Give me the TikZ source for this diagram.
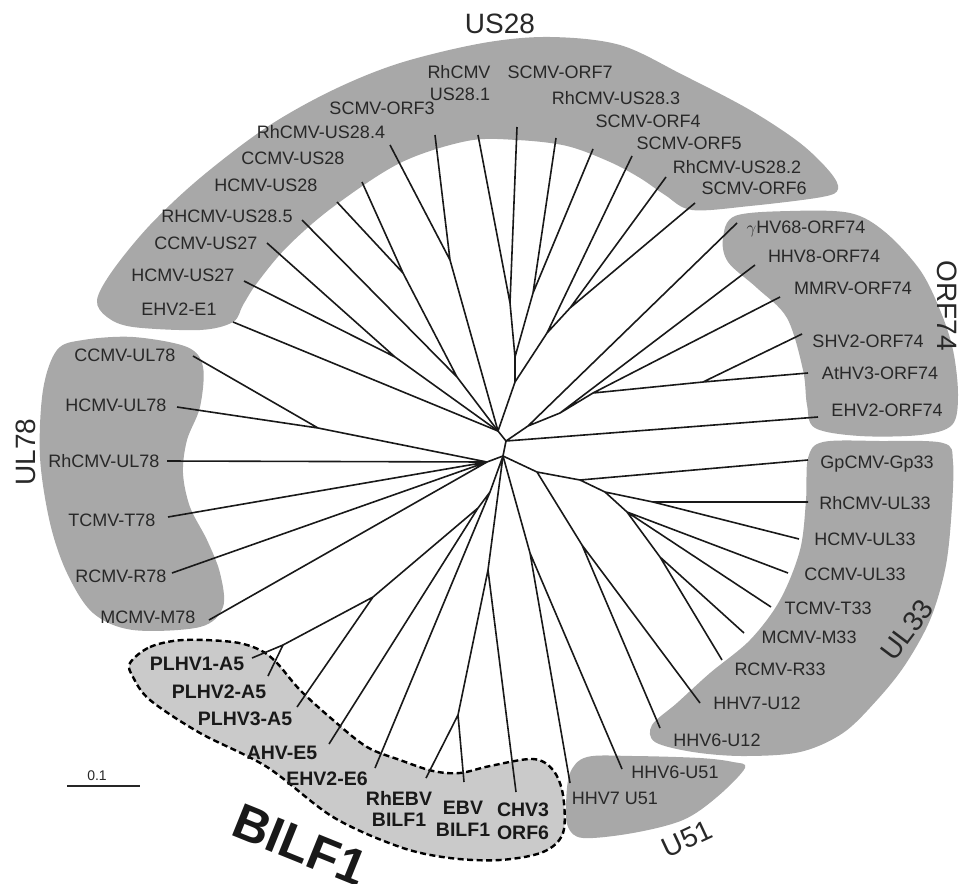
\documentclass[tikz,border=0pt]{standalone}
\usepackage{fontspec}
\setmainfont{Liberation Sans}
\definecolor{bandgray}{RGB}{168,168,168}
\definecolor{bilfgray}{RGB}{202,202,202}
\definecolor{inkc}{RGB}{40,40,40}
\begin{document}
\begin{tikzpicture}[x=1pt,y=-1pt,
  br/.style={line width=1.6pt, draw=black!90},
  lbl/.style={font=\fontsize{18}{20}\selectfont, text=inkc, inner sep=0pt, text height=13pt, text depth=0pt},
  blbl/.style={font=\fontsize{19.5}{21}\selectfont\bfseries, text=black!90, inner sep=0pt, text height=14pt, text depth=0pt},
  grp/.style={font=\fontsize{28}{30}\selectfont, text=inkc, inner sep=0pt},
  band/.style={fill=bandgray},
]
\useasboundingbox (0,0) rectangle (973,883);

% ---------- shaded groups ----------
\fill[band] plot[smooth cycle, tension=0.55] coordinates {(97,300) (113,270) (150,225) (200,178) (267,127) (333,90) (400,63) (483,43) (550,37) (620,45) (683,75) (750,110) (800,143) (830,172) (838,189) (822,197) (750,206) (692,210) (665,195) (640,178) (610,162) (567,146) (517,140) (467,141) (400,163) (333,207) (287,247) (257,283) (243,305) (233,322) (200,330) (133,327) (107,317)};
\fill[band] plot[smooth cycle, tension=0.55] coordinates {(723,238) (735,216) (790,211) (850,213) (885,232) (920,270) (940,310) (953,350) (958,395) (952,425) (920,435) (860,436) (815,428) (807,405) (803,370) (787,318) (757,288) (728,262)};
\fill[band] plot[smooth cycle, tension=0.55] coordinates {(808,458) (823,442) (880,441) (943,443) (953,462) (951,520) (945,570) (930,620) (905,665) (877,700) (843,733) (800,752) (743,756) (693,752) (655,742) (652,725) (677,703) (710,673) (750,640) (780,600) (800,550) (806,500)};
\fill[band] plot[smooth cycle, tension=0.55] coordinates {(570,773) (587,757) (633,756) (700,758) (733,762) (745,768) (717,797) (683,820) (633,833) (583,838) (568,827) (566,805)};
\fill[band] plot[smooth cycle, tension=0.55] coordinates {(57,350) (83,340) (133,337) (187,347) (203,367) (200,407) (187,440) (183,473) (190,507) (207,540) (220,573) (223,607) (200,627) (133,630) (93,613) (67,573) (50,523) (40,457) (43,390)};
\draw[fill=bilfgray, line width=2.4pt, dash pattern=on 6pt off 3.5pt] plot[smooth cycle, tension=0.55] coordinates {(130,663) (150,647) (183,640) (233,642) (260,650) (277,663) (300,690) (333,720) (367,747) (400,760) (433,771) (460,773) (490,766) (533,759) (553,770) (563,795) (563,833) (543,852) (500,860) (450,858) (400,847) (333,817) (267,767) (200,733) (150,700) (133,677)};

% ---------- internal nodes ----------
\coordinate (A) at (498,431);
\coordinate (B) at (506,441);
\coordinate (C) at (503,456);
\coordinate (n27) at (395,357);
\coordinate (n28) at (403,273);
\coordinate (L3) at (457,377);
\coordinate (L1) at (450,260);
\coordinate (T5) at (510,303);
\coordinate (T3) at (533,293);
\coordinate (T4) at (515,357);
\coordinate (T1) at (570,308);
\coordinate (T2) at (547,333);
\coordinate (T6) at (515,382);
\coordinate (SA) at (703,382);
\coordinate (O4) at (593,393);
\coordinate (O3) at (560,413);
\coordinate (O1) at (528,426);
\coordinate (Q0) at (537,472);
\coordinate (Q1) at (580,480);
\coordinate (Q2) at (605,492);
\coordinate (RH) at (653,502);
\coordinate (Q3) at (627,512);
\coordinate (MR) at (660,557);
\coordinate (H12) at (582,545);
\coordinate (U5) at (530,553);
\coordinate (PL12) at (283,645);
\coordinate (PL123) at (373,597);
\coordinate (B2) at (478,508);
\coordinate (B1) at (490,492);
\coordinate (E) at (458,715);
\coordinate (EC) at (488,570);
\coordinate (U1) at (318,428);
\coordinate (C1) at (487,462);

% ---------- leaf ends ----------
\coordinate (e1) at (233,322);
\coordinate (hus27) at (244,281);
\coordinate (cus27) at (267,243);
\coordinate (rus285) at (302,220);
\coordinate (hus28) at (337,202);
\coordinate (cus28) at (362,182);
\coordinate (rus284) at (390,145);
\coordinate (orf3) at (435,135);
\coordinate (rus281) at (478,135);
\coordinate (orf7) at (517,127);
\coordinate (rus283) at (556,138);
\coordinate (orf4) at (593,149);
\coordinate (orf5) at (632,156);
\coordinate (rus282) at (666,177);
\coordinate (orf6) at (695,203);
\coordinate (g68) at (737,223);
\coordinate (hhv8) at (755,265);
\coordinate (mmrv) at (780,297);
\coordinate (shv2) at (802,334);
\coordinate (athv3) at (808,373);
\coordinate (ehv2o) at (818,417);
\coordinate (gp33) at (808,460);
\coordinate (rul33) at (808,502);
\coordinate (hul33) at (799,539);
\coordinate (cul33) at (788,573);
\coordinate (t33) at (771,607);
\coordinate (m33) at (744,633);
\coordinate (r33) at (722,660);
\coordinate (h7u12) at (700,703);
\coordinate (h6u12) at (660,728);
\coordinate (h6u51) at (622,769);
\coordinate (h7u51) at (570,783);
\coordinate (chv3) at (516,792);
\coordinate (ebv) at (464,782);
\coordinate (rhebv) at (426,778);
\coordinate (ehv2e6) at (375,768);
\coordinate (ahv) at (329,744);
\coordinate (plhv3) at (297,707);
\coordinate (plhv2) at (268,676);
\coordinate (plhv1) at (252,658);
\coordinate (cul78) at (193,356);
\coordinate (hul78) at (177,407);
\coordinate (rul78) at (167,461);
\coordinate (t78) at (168,517);
\coordinate (r78) at (172,573);
\coordinate (m78) at (209,620);

% ---------- branches ----------
\draw[br] (A)--(B) (B)--(C);
\draw[br] (A)--(e1);
\draw[br] (A)--(n27) (n27)--(hus27) (n27)--(cus27);
\draw[br] (A)--(L3) (L3)--(rus285) (L3)--(n28) (n28)--(hus28) (n28)--(cus28);
\draw[br] (A)--(L1) (L1)--(rus284) (L1)--(orf3);
\draw[br] (A)--(T6) (T6)--(T4) (T4)--(T5) (T5)--(rus281) (T5)--(orf7)
  (T4)--(T3) (T3)--(rus283) (T3)--(orf4)
  (T6)--(T2) (T2)--(orf5) (T2)--(T1) (T1)--(rus282) (T1)--(orf6);
\draw[br] (B)--(ehv2o) (B)--(O1) (O1)--(g68) (O1)--(O3) (O3)--(hhv8) (O3)--(O4)
  (O4)--(mmrv) (O4)--(SA) (SA)--(shv2) (SA)--(athv3);
\draw[br] (C)--(Q0) (Q0)--(Q1) (Q1)--(gp33) (Q1)--(Q2) (Q2)--(RH) (RH)--(rul33) (RH)--(hul33)
  (Q2)--(Q3) (Q3)--(cul33) (Q3)--(t33) (Q3)--(MR) (MR)--(m33) (MR)--(r33)
  (Q0)--(H12) (H12)--(h7u12) (H12)--(h6u12);
\draw[br] (C)--(U5) (U5)--(h6u51) (U5)--(h7u51);
\draw[br] (C)--(B1) (B1)--(ehv2e6) (B1)--(B2) (B2)--(ahv) (B2)--(PL123) (PL123)--(plhv3)
  (PL123)--(PL12) (PL12)--(plhv1) (PL12)--(plhv2)
  (C)--(EC) (EC)--(chv3) (EC)--(E) (E)--(rhebv) (E)--(ebv);
\draw[br] (C)--(C1) (C1)--(U1) (U1)--(cul78) (U1)--(hul78) (C1)--(rul78) (C1)--(t78) (C1)--(r78) (C1)--(m78);

% ---------- labels ----------
\node[lbl] (le1) at (179,309) {EHV2-E1};
\node[lbl] (lhus27) at (183,275) {HCMV-US27};
\node[lbl] (lcus27) at (206,243) {CCMV-US27};
\node[lbl] (lrus285) at (227,216) {RHCMV-US28.5};
\node[lbl] (lhus28) at (266,185) {HCMV-US28};
\node[lbl] (lcus28) at (293,158) {CCMV-US28};
\node[lbl] (lrus284) at (321,132) {RhCMV-US28.4};
\node[lbl] (lorf3) at (382,108) {SCMV-ORF3};
\node[lbl] (lrus281a) at (459,72) {RhCMV};
\node[lbl] (lrus281b) at (460,94) {US28.1};
\node[lbl] (lorf7) at (560,72) {SCMV-ORF7};
\node[lbl] (lrus283) at (616,98) {RhCMV-US28.3};
\node[lbl] (lorf4) at (648,121) {SCMV-ORF4};
\node[lbl] (lorf5) at (689,143) {SCMV-ORF5};
\node[lbl] (lrus282) at (737,167) {RhCMV-US28.2};
\node[lbl] (lorf6) at (754,188) {SCMV-ORF6};

\node[lbl] (lg68) at (806,227) {$\gamma$HV68-ORF74};
\node[lbl] (lhhv8) at (824,256) {HHV8-ORF74};
\node[lbl] (lmmrv) at (853,288) {MMRV-ORF74};
\node[lbl] (lshv2) at (868,341) {SHV2-ORF74};
\node[lbl] (lathv3) at (880,373) {AtHV3-ORF74};
\node[lbl] (lehv2o) at (887,410) {EHV2-ORF74};

\node[lbl] (lgp33) at (877,462) {GpCMV-Gp33};
\node[lbl] (lrul33) at (875,503) {RhCMV-UL33};
\node[lbl] (lhul33) at (865,539) {HCMV-UL33};
\node[lbl] (lcul33) at (855,574) {CCMV-UL33};
\node[lbl] (lt33) at (828,608) {TCMV-T33};
\node[lbl] (lm33) at (809,637) {MCMV-M33};
\node[lbl] (lr33) at (780,669) {RCMV-R33};
\node[lbl] (lh7u12) at (757,703) {HHV7-U12};
\node[lbl] (lh6u12) at (717,740) {HHV6-U12};

\node[lbl] (lh6u51) at (675,772) {HHV6-U51};
\node[lbl] (lh7u51) at (615,798) {HHV7 U51};

\node[blbl] (lchv3a) at (523,809) {CHV3};
\node[blbl] (lchv3b) at (523,832) {ORF6};
\node[blbl] (lebva) at (463,807) {EBV};
\node[blbl] (lebvb) at (463,829) {BILF1};
\node[blbl] (lrhebva) at (399,798) {RhEBV};
\node[blbl] (lrhebvb) at (399,819) {BILF1};
\node[blbl] (lehv2e6) at (327,778) {EHV2-E6};
\node[blbl] (lahv) at (282,752) {AHV-E5};
\node[blbl] (lplhv3) at (245,718) {PLHV3-A5};
\node[blbl] (lplhv2) at (219,691) {PLHV2-A5};
\node[blbl] (lplhv1) at (197,663) {PLHV1-A5};

\node[lbl] (lcul78) at (125,355) {CCMV-UL78};
\node[lbl] (lhul78) at (116,405) {HCMV-UL78};
\node[lbl] (lrul78) at (104,461) {RhCMV-UL78};
\node[lbl] (lt78) at (112,520) {TCMV-T78};
\node[lbl] (lr78) at (121,576) {RCMV-R78};
\node[lbl] (lm78) at (148,617) {MCMV-M78};

% ---------- group names ----------
\node[grp] (gus28) at (500,24) {US28};
\node[grp, rotate=-90] (gorf74) at (947,306) {ORF74};
\node[grp, rotate=90] (gul78) at (26,452) {UL78};
\node[grp, rotate=53] (gul33) at (907,630) {UL33};
\node[grp, rotate=25] (gu51) at (687,839) {U51};
\node[font=\fontsize{50}{52}\selectfont\bfseries, text=black!90, inner sep=0pt, rotate=-22] (gbilf1) at (300,845) {BILF1};

% ---------- scale bar ----------
\coordinate (sb1) at (67,786);
\coordinate (sb2) at (140,786);
\draw[line width=1.4pt, black!85] (sb1) -- (sb2);
\node[font=\fontsize{14}{16}\selectfont, text=inkc, inner sep=0pt] (sbl) at (97,776) {0.1};
\end{tikzpicture}
\end{document}
